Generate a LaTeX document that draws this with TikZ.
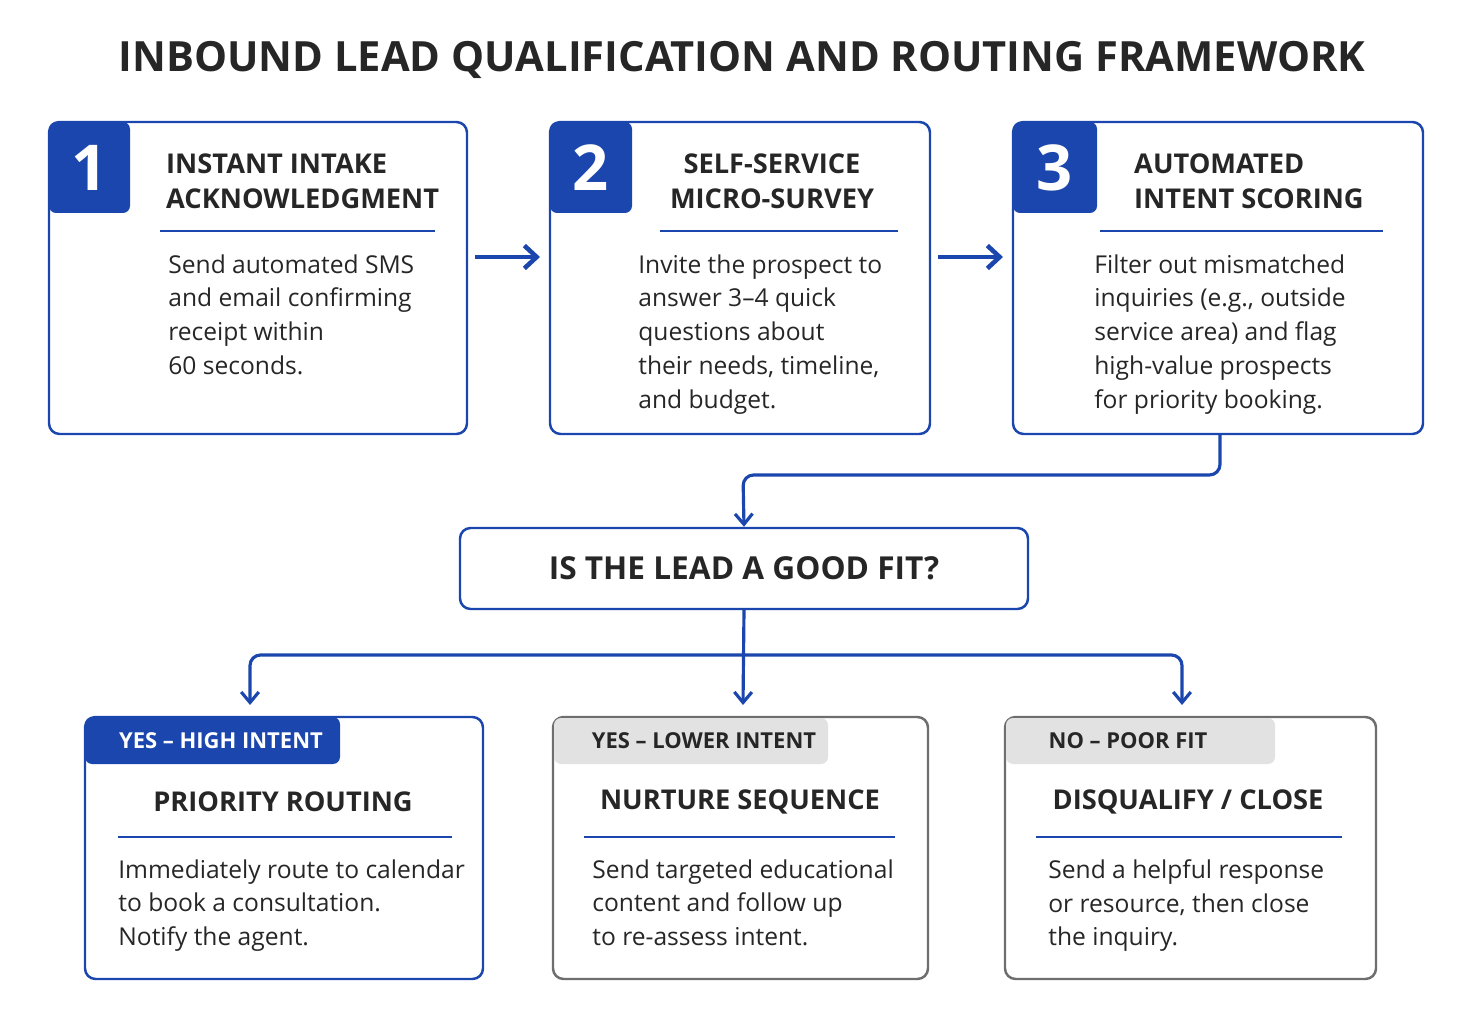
\documentclass[tikz,border=0pt]{standalone}
\usepackage{fontspec}
\setmainfont{Open Sans}
\usetikzlibrary{positioning,arrows.meta}
\definecolor{leadblue}{HTML}{1B46AE}
\definecolor{taggray}{HTML}{E2E2E2}
\definecolor{boxgray}{HTML}{6E6E6E}
\tikzset{
  stepframe/.style={draw=leadblue,line width=1.4pt,rounded corners=6pt},
  grayframe/.style={draw=boxgray,line width=1.4pt,rounded corners=6pt},
  boxtitle/.style={font=\fontsize{15.5}{20}\selectfont\bfseries,align=left,text=black!85},
  bodytext/.style={font=\fontsize{14}{19.3}\selectfont,align=left,anchor=north west,inner sep=0pt,text=black!85},
  flow/.style={draw=leadblue,line width=1.8pt,-{Straight Barb[length=6pt,width=10pt]}},
  bigflow/.style={draw=leadblue,line width=2.6pt,-{Straight Barb[length=7pt,width=13pt]}},
  rulebar/.style={draw=leadblue,line width=1pt}
}
\begin{document}
\begin{tikzpicture}[x=0.02cm,y=-0.02cm]
  \useasboundingbox (0,0) rectangle (1474,1023);
  \node[font=\fontsize{23.7}{28}\selectfont\bfseries,text=black!85] (title) at (742,60) {INBOUND LEAD QUALIFICATION AND ROUTING FRAMEWORK};

  % top row
  \draw[stepframe] (49,122) rectangle (467,434);
  \fill[leadblue,rounded corners=4pt] (49,122) rectangle (130,213);
  \node[text=white,font=\fontsize{36}{36}\selectfont\bfseries] (n1) at (89.5,168) {1};
  \node[boxtitle,anchor=west] (t1) at (160,181) {INSTANT INTAKE\\ACKNOWLEDGMENT};
  \draw[rulebar] (160,231) -- (435,231);
  \node[bodytext] (b1) at (168,254) {Send automated SMS\\and email confirming\\receipt within\\60 seconds.};

  \draw[stepframe] (550,122) rectangle (930,434);
  \fill[leadblue,rounded corners=4pt] (550,122) rectangle (632,213);
  \node[text=white,font=\fontsize{36}{36}\selectfont\bfseries] (n2) at (591,168) {2};
  \node[boxtitle,align=center] (t2) at (772,181) {SELF-SERVICE\\MICRO-SURVEY};
  \draw[rulebar] (660,231) -- (898,231);
  \node[bodytext] (b2) at (638,254) {Invite the prospect to\\answer 3–4 quick\\questions about\\their needs, timeline,\\and budget.};

  \draw[stepframe] (1013,122) rectangle (1423,434);
  \fill[leadblue,rounded corners=4pt] (1013,122) rectangle (1097,213);
  \node[text=white,font=\fontsize{36}{36}\selectfont\bfseries] (n3) at (1055,168) {3};
  \node[boxtitle,anchor=west] (t3) at (1128,181) {AUTOMATED\\INTENT SCORING};
  \draw[rulebar] (1100,231) -- (1383,231);
  \node[bodytext] (b3) at (1094,254) {Filter out mismatched\\inquiries (e.g., outside\\service area) and flag\\high-value prospects\\for priority booking.};

  \coordinate (s1) at (475,257); \coordinate (e1) at (540,257);
  \coordinate (s2) at (938,257); \coordinate (e2) at (1003,257);
  \draw[bigflow] (s1) -- (e1);
  \draw[bigflow] (s2) -- (e2);

  % decision
  \node[draw=leadblue,line width=1.4pt,rounded corners=6pt,minimum width=568*0.02cm,minimum height=81*0.02cm,
        font=\fontsize{18}{20}\selectfont\bfseries,text=black!85] (fit) at (744,568.5) {IS THE LEAD A GOOD FIT?};
  \coordinate (d3) at (1220,434);
  \draw[flow,rounded corners=6pt] (d3) -- (1220,475) -- (743,475) -- (fit.north);

  \coordinate (ya) at (250,705); \coordinate (yb) at (743,705); \coordinate (yc) at (1182,705);
  \draw[flow] (fit.south) -- (yb);
  \draw[flow,rounded corners=6pt] (743,655) -- (250,655) -- (ya);
  \draw[flow,rounded corners=6pt] (743,655) -- (1182,655) -- (yc);

  % outcomes
  \draw[stepframe] (85,717) rectangle (483,979);
  \fill[leadblue,rounded corners=4pt] (85,717) rectangle (340,764);
  \node[text=white,font=\fontsize{12.5}{15}\selectfont\bfseries] (tagA) at (221,741) {YES – HIGH INTENT};
  \node[boxtitle] (oA) at (283,802) {PRIORITY ROUTING};
  \draw[rulebar] (118,837) -- (452,837);
  \node[bodytext] (bA) at (118,859) {Immediately route to calendar\\to book a consultation.\\Notify the agent.};

  \draw[grayframe] (553,717) rectangle (928,979);
  \fill[taggray,rounded corners=4pt] (554,718) rectangle (828,764);
  \node[text=black!85,font=\fontsize{12.5}{15}\selectfont\bfseries] (tagB) at (704,741) {YES – LOWER INTENT};
  \node[boxtitle] (oB) at (740,802) {NURTURE SEQUENCE};
  \draw[rulebar] (584,837) -- (895,837);
  \node[bodytext] (bB) at (592,859) {Send targeted educational\\content and follow up\\to re-assess intent.};

  \draw[grayframe] (1005,717) rectangle (1376,979);
  \fill[taggray,rounded corners=4pt] (1006,718) rectangle (1275,764);
  \node[text=black!85,font=\fontsize{12.5}{15}\selectfont\bfseries] (tagC) at (1128,741) {NO – POOR FIT};
  \node[boxtitle] (oC) at (1188,802) {DISQUALIFY / CLOSE};
  \draw[rulebar] (1036,837) -- (1342,837);
  \node[bodytext] (bC) at (1048,859) {Send a helpful response\\or resource, then close\\the inquiry.};
\end{tikzpicture}
\end{document}
